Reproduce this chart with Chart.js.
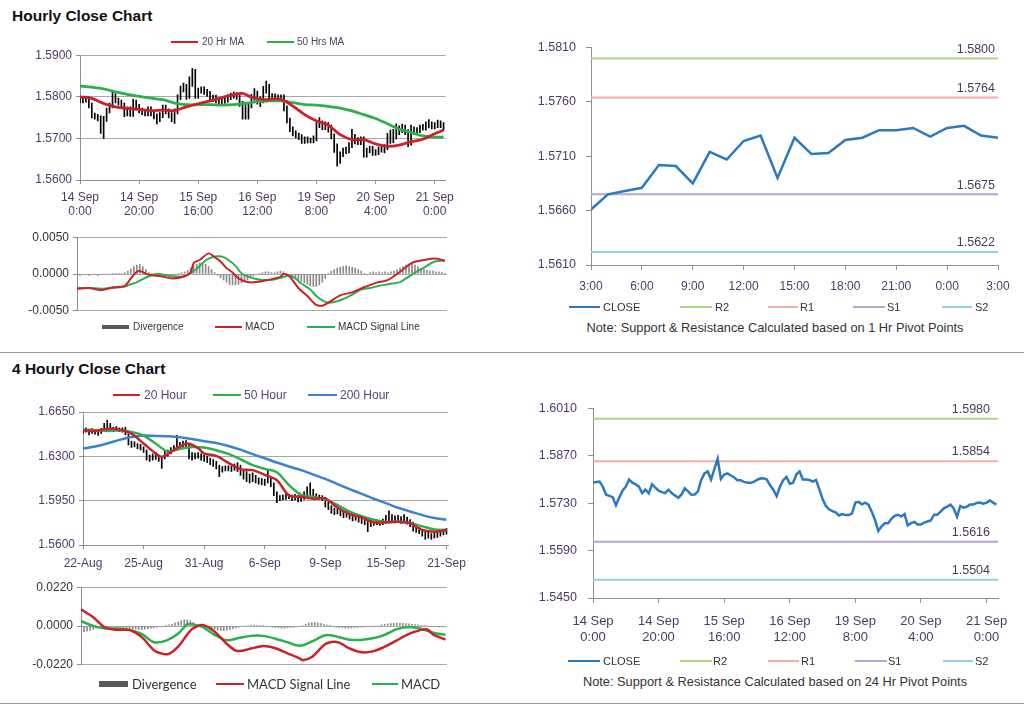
<!DOCTYPE html>
<html>
<head>
<meta charset="utf-8">
<title>Hourly / 4 Hourly Close Chart</title>
<script src="https://cdn.jsdelivr.net/npm/chart.js@4.4.1/dist/chart.umd.min.js"></script>
<style>
  body { margin: 0; background: #fff; }
  #page { position: relative; width: 1024px; height: 706px; overflow: hidden; font-family: "Liberation Sans", Arial, sans-serif; }
  #page canvas { position: absolute; }
  .title { position: absolute; left: 12px; font-weight: bold; font-size: 15.5px; color: #111; }
  .rule { position: absolute; left: 0; width: 1024px; height: 1px; background: #9a9a9a; }
  .note { position: absolute; width: 500px; text-align: center; font-size: 12.8px; line-height: 14px; color: #333; white-space: nowrap; }
</style>
</head>
<body>
<div id="page">
  <div class="title" style="top:7px">Hourly Close Chart</div>
  <div class="title" style="top:360px">4 Hourly Close Chart</div>
  <div class="rule" style="top:352px"></div>
  <div class="rule" style="top:703px"></div>

  <canvas id="cA" width="460" height="180" style="left:0;top:44px"></canvas>
  <canvas id="cB" width="460" height="96" style="left:0;top:226px"></canvas>
  <canvas id="cC" width="500" height="270" style="left:520px;top:30px"></canvas>
  <canvas id="cD" width="480" height="175" style="left:0;top:400px"></canvas>
  <canvas id="cE" width="460" height="100" style="left:0;top:576px"></canvas>
  <canvas id="cF" width="500" height="258" style="left:520px;top:390px"></canvas>

  <div class="note" style="left:525px;top:321px">Note: Support &amp; Resistance Calculated based on 1 Hr Pivot Points</div>
  <div class="note" style="left:525px;top:675px">Note: Support &amp; Resistance Calculated based on 24 Hr Pivot Points</div>
</div>

<script>
// ---- hourly bars, 14 Sep 0:00 .. 21 Sep 3:00 (one value per hour) ----
const hrTicks = [0, 20, 40, 60, 80, 100, 120];
const hrTickLabels = [['14 Sep', '0:00'], ['14 Sep', '20:00'], ['15 Sep', '16:00'], ['16 Sep', '12:00'],
                      ['19 Sep', '8:00'], ['20 Sep', '4:00'], ['21 Sep', '0:00']];

const hrClose = [
  1.5791, 1.5793, 1.5794, 1.5779, 1.5755, 1.5752, 1.5748, 1.5724, 1.5747, 1.5767,
  1.5779, 1.5800, 1.5791, 1.5786, 1.5779, 1.5760, 1.5770, 1.5759, 1.5786, 1.5776,
  1.5767, 1.5763, 1.5760, 1.5770, 1.5760, 1.5753, 1.5746, 1.5756, 1.5774, 1.5765,
  1.5755, 1.5756, 1.5765, 1.5799, 1.5818, 1.5824, 1.5800, 1.5831, 1.5862, 1.5802,
  1.5815, 1.5818, 1.5812, 1.5807, 1.5798, 1.5798, 1.5793, 1.5791, 1.5790, 1.5793,
  1.5799, 1.5803, 1.5804, 1.5800, 1.5783, 1.5770, 1.5751, 1.5779, 1.5798, 1.5808,
  1.5788, 1.5791, 1.5815, 1.5824, 1.5800, 1.5800, 1.5799, 1.5794, 1.5799, 1.5772,
  1.5743, 1.5722, 1.5712, 1.5707, 1.5703, 1.5694, 1.5698, 1.5695, 1.5695, 1.5700,
  1.5732, 1.5734, 1.5727, 1.5732, 1.5726, 1.5705, 1.5681, 1.5648, 1.5662, 1.5671,
  1.5671, 1.5684, 1.5693, 1.5696, 1.5691, 1.5698, 1.5665, 1.5671, 1.5675, 1.5667,
  1.5667, 1.5673, 1.5676, 1.5679, 1.5696, 1.5696, 1.5705, 1.5715, 1.5720, 1.5726,
  1.5715, 1.5690, 1.5722, 1.5717, 1.5720, 1.5726, 1.5726, 1.5731, 1.5732, 1.5729,
  1.5732, 1.5738, 1.5732, 1.5726
];
const hrLow = [
  1.5785, 1.5785, 1.5787, 1.5773, 1.5749, 1.5746, 1.5742, 1.5712, 1.5700, 1.5741,
  1.5761, 1.5773, 1.5785, 1.5780, 1.5773, 1.5752, 1.5754, 1.5753, 1.5753, 1.5768,
  1.5761, 1.5757, 1.5754, 1.5754, 1.5754, 1.5747, 1.5735, 1.5740, 1.5750, 1.5759,
  1.5749, 1.5740, 1.5736, 1.5759, 1.5793, 1.5812, 1.5794, 1.5796, 1.5825, 1.5796,
  1.5796, 1.5809, 1.5806, 1.5801, 1.5792, 1.5788, 1.5785, 1.5783, 1.5783, 1.5784,
  1.5787, 1.5793, 1.5797, 1.5794, 1.5777, 1.5746, 1.5746, 1.5746, 1.5773, 1.5792,
  1.5782, 1.5776, 1.5785, 1.5809, 1.5794, 1.5792, 1.5791, 1.5788, 1.5788, 1.5766,
  1.5737, 1.5716, 1.5706, 1.5701, 1.5697, 1.5688, 1.5688, 1.5689, 1.5689, 1.5689,
  1.5694, 1.5726, 1.5721, 1.5721, 1.5715, 1.5699, 1.5666, 1.5633, 1.5640, 1.5656,
  1.5663, 1.5665, 1.5678, 1.5687, 1.5685, 1.5685, 1.5655, 1.5655, 1.5665, 1.5659,
  1.5659, 1.5661, 1.5667, 1.5665, 1.5673, 1.5688, 1.5690, 1.5699, 1.5709, 1.5714,
  1.5709, 1.5680, 1.5684, 1.5711, 1.5711, 1.5714, 1.5720, 1.5720, 1.5725, 1.5723,
  1.5723, 1.5726, 1.5726, 1.5720
];
const hrHigh = [
  1.5797, 1.5799, 1.5800, 1.5800, 1.5785, 1.5761, 1.5758, 1.5754, 1.5753, 1.5773,
  1.5785, 1.5812, 1.5808, 1.5797, 1.5792, 1.5785, 1.5776, 1.5776, 1.5794, 1.5792,
  1.5782, 1.5773, 1.5769, 1.5776, 1.5776, 1.5766, 1.5759, 1.5762, 1.5780, 1.5780,
  1.5771, 1.5762, 1.5771, 1.5805, 1.5826, 1.5833, 1.5830, 1.5848, 1.5868, 1.5866,
  1.5821, 1.5824, 1.5824, 1.5818, 1.5813, 1.5804, 1.5804, 1.5799, 1.5797, 1.5799,
  1.5805, 1.5809, 1.5812, 1.5810, 1.5806, 1.5789, 1.5782, 1.5785, 1.5806, 1.5820,
  1.5814, 1.5800, 1.5825, 1.5838, 1.5830, 1.5808, 1.5807, 1.5805, 1.5805, 1.5805,
  1.5778, 1.5749, 1.5728, 1.5718, 1.5713, 1.5709, 1.5704, 1.5704, 1.5701, 1.5706,
  1.5738, 1.5750, 1.5742, 1.5740, 1.5738, 1.5732, 1.5711, 1.5687, 1.5668, 1.5677,
  1.5679, 1.5690, 1.5722, 1.5710, 1.5702, 1.5704, 1.5704, 1.5677, 1.5681, 1.5681,
  1.5673, 1.5679, 1.5682, 1.5685, 1.5712, 1.5720, 1.5722, 1.5735, 1.5730, 1.5734,
  1.5732, 1.5721, 1.5732, 1.5728, 1.5726, 1.5732, 1.5734, 1.5740, 1.5745, 1.5740,
  1.5738, 1.5744, 1.5742, 1.5738
];
// moving averages, [bar, value]
const ma20Hr = [[0,1.5800],[4,1.5796],[8,1.5784],[12,1.5776],[16,1.5772],[20,1.5770],[24,1.5767],[28,1.5768],
  [32,1.5767],[36,1.5776],[40,1.5783],[44,1.5790],[48,1.5798],[52,1.5805],[55,1.5808],[58,1.5799],[62,1.5793],
  [64,1.5794],[68,1.5794],[72,1.5778],[76,1.5757],[80,1.5742],[84,1.5732],[88,1.5709],[92,1.5697],[96,1.5697],
  [100,1.5687],[104,1.5681],[108,1.5684],[112,1.5692],[116,1.5698],[120,1.5711],[123,1.5720]];
const ma50Hr = [[0,1.5826],[4,1.5823],[8,1.5819],[12,1.5812],[16,1.5806],[20,1.5801],[24,1.5797],[28,1.5793],
  [32,1.5785],[36,1.5781],[40,1.5781],[44,1.5781],[48,1.5780],[52,1.5781],[56,1.5784],[60,1.5789],[64,1.5790],
  [68,1.5790],[72,1.5786],[76,1.5781],[80,1.5780],[84,1.5777],[88,1.5773],[92,1.5766],[96,1.5757],[100,1.5748],
  [104,1.5735],[108,1.5722],[112,1.5714],[116,1.5706],[120,1.5703],[123,1.5703]];

// hourly MACD
const divHr = [
  -0.0001, -0.0002, -0.0001, -0.0001, -0.0002, -0.0001, -0.0001, -0.0002, -0.0001, -0.0001,
  0.0000, 0.0000, 0.0001, 0.0001, 0.0001, 0.0001, 0.0002, 0.0004, 0.0007, 0.0010,
  0.0012, 0.0013, 0.0010, 0.0006, 0.0002, 0.0001, -0.0001, -0.0001, -0.0002, -0.0002,
  -0.0001, -0.0001, -0.0001, 0.0000, 0.0001, 0.0002, 0.0003, 0.0005, 0.0008, 0.0011,
  0.0013, 0.0015, 0.0014, 0.0013, 0.0010, 0.0006, 0.0002, -0.0002, -0.0005, -0.0008,
  -0.0011, -0.0014, -0.0015, -0.0015, -0.0014, -0.0012, -0.0010, -0.0008, -0.0005, -0.0003,
  -0.0001, 0.0001, 0.0002, 0.0003, 0.0003, 0.0002, 0.0002, 0.0003, 0.0004, 0.0003,
  0.0001, -0.0002, -0.0004, -0.0006, -0.0008, -0.0010, -0.0012, -0.0014, -0.0016, -0.0017,
  -0.0017, -0.0015, -0.0011, -0.0006, 0.0001, 0.0004, 0.0006, 0.0008, 0.0009, 0.0010,
  0.0011, 0.0010, 0.0009, 0.0008, 0.0006, 0.0004, 0.0001, -0.0001, 0.0002, 0.0003,
  0.0002, 0.0003, 0.0002, 0.0003, 0.0002, 0.0003, 0.0004, 0.0006, 0.0008, 0.0010,
  0.0012, 0.0013, 0.0013, 0.0012, 0.0010, 0.0008, 0.0006, 0.0005, 0.0004, 0.0004,
  0.0003, 0.0003, 0.0002, 0.0001
];
const macdHr = [[0,-0.0020],[4,-0.0019],[8,-0.0022],[12,-0.0018],[16,-0.0016],[18,-0.0006],[20,0.0003],[21,0.0004],
  [24,-0.0001],[28,-0.0003],[32,-0.0006],[36,-0.0003],[38,0.0002],[39,0.0015],[41,0.0019],[44,0.0028],[46,0.0023],
  [48,0.0017],[50,0.0008],[52,0.0002],[54,-0.0006],[57,-0.0011],[60,-0.0011],[64,-0.0008],[68,-0.0004],[69,0.0000],
  [71,-0.0003],[74,-0.0019],[77,-0.0030],[80,-0.0042],[82,-0.0043],[84,-0.0039],[88,-0.0029],[92,-0.0025],
  [96,-0.0018],[100,-0.0012],[104,-0.0008],[108,0.0003],[112,0.0015],[116,0.0019],[120,0.0021],[123,0.0018]];
const signalHr = [[0,-0.0019],[4,-0.0019],[8,-0.0020],[12,-0.0019],[16,-0.0017],[18,-0.0014],[20,-0.0011],
  [24,-0.0003],[27,0.0000],[32,-0.0003],[36,-0.0003],[40,0.0007],[42,0.0015],[44,0.0021],[47,0.0024],[49,0.0023],
  [51,0.0018],[53,0.0011],[55,0.0001],[59,-0.0006],[62,-0.0008],[65,-0.0008],[69,-0.0004],[71,-0.0002],
  [73,-0.0006],[75,-0.0013],[78,-0.0021],[80,-0.0030],[82,-0.0036],[84,-0.0039],[86,-0.0038],[89,-0.0034],
  [92,-0.0028],[95,-0.0021],[98,-0.0019],[101,-0.0016],[104,-0.0014],[108,-0.0011],[110,-0.0006],[113,0.0002],
  [117,0.0011],[119,0.0016],[121,0.0018],[123,0.0018]];

// last 25 hourly closes with 1 Hr pivots
const hourTicks = [0, 3, 6, 9, 12, 15, 18, 21, 24];
const hourTickLabels = ['3:00', '6:00', '9:00', '12:00', '15:00', '18:00', '21:00', '0:00', '3:00'];
const close25 = [1.5661, 1.5675, 1.5678, 1.5681, 1.5702, 1.5701, 1.5685, 1.5714, 1.5707, 1.5724,
                 1.5729, 1.5690, 1.5727, 1.5712, 1.5713, 1.5725, 1.5727, 1.5734, 1.5734, 1.5736,
                 1.5728, 1.5736, 1.5738, 1.5729, 1.5727];
const pivotNames = ['R2', 'R1', 'S1', 'S2'];
const pivots1h = [1.5800, 1.5764, 1.5675, 1.5622];
const pivots24h = [1.5980, 1.5854, 1.5616, 1.5504];

// ---- 4 hourly bars, 22-Aug .. 21-Sep ----
const fourTicks = [0, 20, 40, 60, 80, 100, 120];
const fourTickLabels = ['22-Aug', '25-Aug', '31-Aug', '6-Sep', '9-Sep', '15-Sep', '21-Sep'];
const fourLow = [
  1.6480, 1.6490, 1.6470, 1.6480, 1.6475, 1.6465, 1.6480, 1.6500, 1.6510, 1.6500,
  1.6495, 1.6500, 1.6495, 1.6490, 1.6470, 1.6390, 1.6370, 1.6375, 1.6360, 1.6350,
  1.6330, 1.6270, 1.6260, 1.6270, 1.6275, 1.6260, 1.6205, 1.6280, 1.6300, 1.6320,
  1.6340, 1.6350, 1.6360, 1.6365, 1.6370, 1.6280, 1.6270, 1.6280, 1.6285, 1.6270,
  1.6260, 1.6250, 1.6235, 1.6220, 1.6200, 1.6140, 1.6175, 1.6185, 1.6185, 1.6180,
  1.6190, 1.6180, 1.6150, 1.6120, 1.6100, 1.6090, 1.6100, 1.6090, 1.6080, 1.6075,
  1.6070, 1.6090, 1.6060, 1.5990, 1.5935, 1.5950, 1.5955, 1.5960, 1.5965, 1.5950,
  1.5955, 1.5940, 1.5945, 1.5960, 1.5980, 1.5990, 1.5975, 1.5965, 1.5960, 1.5950,
  1.5900, 1.5880, 1.5850, 1.5840, 1.5845, 1.5830, 1.5815, 1.5820, 1.5805, 1.5790,
  1.5795, 1.5780, 1.5770, 1.5760, 1.5705, 1.5745, 1.5755, 1.5760, 1.5755, 1.5760,
  1.5770, 1.5790, 1.5780, 1.5775, 1.5780, 1.5770, 1.5775, 1.5765, 1.5745, 1.5710,
  1.5700, 1.5690, 1.5670, 1.5645, 1.5655, 1.5645, 1.5655, 1.5660, 1.5670, 1.5680,
  1.5685
];
const fourHigh = [
  1.6520, 1.6525, 1.6515, 1.6520, 1.6510, 1.6505, 1.6520, 1.6560, 1.6585, 1.6560,
  1.6530, 1.6535, 1.6525, 1.6525, 1.6530, 1.6480, 1.6420, 1.6415, 1.6400, 1.6395,
  1.6375, 1.6350, 1.6310, 1.6320, 1.6330, 1.6310, 1.6300, 1.6340, 1.6350, 1.6370,
  1.6385, 1.6465, 1.6410, 1.6420, 1.6425, 1.6400, 1.6330, 1.6325, 1.6330, 1.6320,
  1.6310, 1.6300, 1.6285, 1.6275, 1.6260, 1.6230, 1.6220, 1.6225, 1.6225, 1.6220,
  1.6240, 1.6250, 1.6230, 1.6190, 1.6180, 1.6160, 1.6170, 1.6150, 1.6130, 1.6125,
  1.6120, 1.6190, 1.6140, 1.6090, 1.6020, 1.5990, 1.5995, 1.6000, 1.6000, 1.5995,
  1.6000, 1.5990, 1.5985, 1.6020, 1.6060, 1.6090, 1.6040, 1.6005, 1.5995, 1.5990,
  1.5975, 1.5940, 1.5910, 1.5890, 1.5885, 1.5875, 1.5865, 1.5870, 1.5855, 1.5845,
  1.5840, 1.5830, 1.5820, 1.5810, 1.5795, 1.5795, 1.5795, 1.5800, 1.5795, 1.5805,
  1.5835, 1.5870, 1.5840, 1.5830, 1.5835, 1.5825, 1.5840, 1.5820, 1.5800, 1.5780,
  1.5750, 1.5740, 1.5720, 1.5710, 1.5700, 1.5690, 1.5700, 1.5705, 1.5715, 1.5725,
  1.5730
];
const ma20Four = [[0,1.6506],[4,1.6500],[8,1.6516],[12,1.6511],[16,1.6479],[20,1.6401],[24,1.6322],[26,1.6296],
  [30,1.6350],[33,1.6390],[35,1.6400],[38,1.6365],[40,1.6322],[44,1.6303],[48,1.6248],[52,1.6199],[56,1.6191],
  [60,1.6154],[64,1.6112],[68,1.5991],[72,1.5981],[76,1.5965],[80,1.5968],[84,1.5894],[88,1.5844],[92,1.5818],
  [96,1.5779],[100,1.5779],[104,1.5784],[108,1.5771],[112,1.5718],[116,1.5705],[120,1.5718]];
const ma50Four = [[0,1.6511],[4,1.6506],[8,1.6500],[12,1.6506],[16,1.6493],[20,1.6464],[24,1.6401],[28,1.6338],
  [32,1.6359],[36,1.6374],[40,1.6369],[44,1.6348],[48,1.6319],[52,1.6277],[56,1.6230],[60,1.6201],[64,1.6175],
  [68,1.6073],[72,1.5996],[76,1.5981],[80,1.5960],[84,1.5915],[88,1.5863],[92,1.5828],[96,1.5800],[100,1.5781],
  [104,1.5784],[108,1.5773],[112,1.5747],[116,1.5723],[120,1.5718]];
const ma200Four = [[0,1.6361],[4,1.6377],[8,1.6401],[12,1.6430],[16,1.6453],[20,1.6464],[24,1.6461],[28,1.6458],
  [32,1.6451],[36,1.6437],[40,1.6419],[44,1.6406],[48,1.6382],[52,1.6353],[56,1.6317],[60,1.6285],[64,1.6251],
  [68,1.6220],[72,1.6191],[76,1.6156],[80,1.6122],[84,1.6080],[88,1.6041],[92,1.6004],[96,1.5965],[100,1.5931],
  [104,1.5894],[108,1.5865],[112,1.5836],[116,1.5813],[120,1.5799]];

// 4 hourly MACD
const divFour = [
  -0.0030, -0.0032, -0.0030, -0.0025, -0.0020, -0.0012, -0.0008, -0.0005, -0.0003, -0.0002,
  -0.0002, -0.0003, -0.0004, -0.0006, -0.0008, -0.0010, -0.0012, -0.0015, -0.0018, -0.0020,
  -0.0020, -0.0018, -0.0015, -0.0012, -0.0010, -0.0007, -0.0004, -0.0002, 0.0002, 0.0006,
  0.0010, 0.0016, 0.0022, 0.0030, 0.0035, 0.0035, 0.0030, 0.0020, 0.0010, 0.0005,
  0.0002, -0.0002, -0.0006, -0.0012, -0.0018, -0.0024, -0.0026, -0.0026, -0.0024, -0.0020,
  -0.0015, -0.0010, -0.0006, -0.0003, 0.0000, 0.0003, 0.0005, 0.0005, 0.0004, 0.0003,
  0.0002, 0.0000, -0.0003, -0.0006, -0.0008, -0.0010, -0.0012, -0.0012, -0.0010, -0.0008,
  -0.0006, -0.0004, -0.0002, 0.0003, 0.0010, 0.0016, 0.0019, 0.0020, 0.0018, 0.0014,
  0.0010, 0.0005, 0.0001, -0.0003, -0.0006, -0.0008, -0.0010, -0.0012, -0.0012, -0.0011,
  -0.0010, -0.0008, -0.0006, -0.0005, -0.0004, -0.0003, -0.0002, 0.0000, 0.0003, 0.0006,
  0.0009, 0.0012, 0.0014, 0.0015, 0.0016, 0.0016, 0.0015, 0.0014, 0.0012, 0.0010,
  0.0008, 0.0006, 0.0004, 0.0002, 0.0000, -0.0002, -0.0003, -0.0004, -0.0005, -0.0005,
  -0.0004
];
const signalFour = [[0,0.0094],[4,0.0050],[8,-0.0009],[12,-0.0022],[16,-0.0023],[20,-0.0063],[24,-0.0137],
  [27,-0.0158],[29,-0.0158],[32,-0.0117],[36,-0.0027],[38,-0.0004],[40,0.0005],[42,-0.0008],[44,-0.0032],
  [48,-0.0101],[51,-0.0140],[53,-0.0140],[56,-0.0128],[60,-0.0113],[64,-0.0126],[68,-0.0155],[72,-0.0184],
  [73,-0.0194],[76,-0.0176],[80,-0.0108],[82,-0.0092],[85,-0.0094],[88,-0.0124],[92,-0.0148],[96,-0.0144],
  [100,-0.0117],[104,-0.0081],[108,-0.0045],[112,-0.0022],[114,-0.0020],[116,-0.0049],[120,-0.0077]];
const macdFour = [[0,0.0027],[4,0.0001],[8,-0.0014],[12,-0.0014],[16,-0.0022],[20,-0.0045],[24,-0.0092],
  [28,-0.0083],[32,-0.0043],[35,0.0009],[37,0.0009],[40,-0.0005],[44,-0.0050],[48,-0.0081],[52,-0.0068],
  [56,-0.0056],[60,-0.0056],[64,-0.0072],[68,-0.0092],[72,-0.0112],[76,-0.0088],[80,-0.0054],[82,-0.0052],
  [84,-0.0059],[88,-0.0076],[92,-0.0079],[96,-0.0070],[100,-0.0050],[104,-0.0018],[108,-0.0005],[112,-0.0016],
  [116,-0.0038],[120,-0.0050]];

// the 24 Hr pivot chart reuses hrClose / hrTicks

// ---- look ----
const AXIS = '#8f8f8f', GRID = '#a8a8a8', LABEL = '#4d3a66', DARK = '#333';
const RED = '#cc2128', GREEN = '#2bb14c', BLUE = '#3b82cf', CLOSE_BLUE = '#2b79bf';
const PIVOT_COLORS = ['#b3d380', '#f2abaa', '#b7a3d4', '#94cfe3'];
const HR_MAX = 123.7, FOUR_MAX = 120.5, HOUR_MAX = 24, CLOSE_MAX = 123.5;

Chart.defaults.font.family = '"Liberation Sans", Arial, sans-serif';
Chart.defaults.animation = false;
Chart.defaults.responsive = false;
Chart.defaults.plugins.legend.display = false;
Chart.defaults.plugins.tooltip.enabled = false;
Chart.defaults.elements.point.radius = 0;

const pairs = arr => arr.map(([x, y]) => ({ x, y }));
const series = ys => ys.map((y, x) => ({ x, y }));
const ranges = (lo, hi) => lo.map((l, x) => ({ x, y: [l, hi[x]] }));
const flat = (v, max) => [{ x: 0, y: v }, { x: max, y: v }];

function xAxis(o) {
  const ax = {
    type: 'linear', min: 0, max: o.max, offset: false, display: !!o.labels,
    afterBuildTicks: s => { s.ticks = o.ticks.map(value => ({ value })); },
    border: { color: AXIS },
    grid: { offset: false, drawOnChartArea: false, color: AXIS, tickLength: o.tickLength || 4 },
    ticks: {
      autoSkip: false, maxRotation: 0, padding: o.pad || 6, color: LABEL,
      font: { size: o.size || 12, lineHeight: o.lh || 1.2 },
      callback: v => o.labels ? o.labels[o.ticks.indexOf(v)] : ''
    }
  };
  if (o.height) ax.afterFit = s => { s.height = o.height; };
  return ax;
}
function yAxis(o) {
  return {
    type: 'linear', min: o.min, max: o.max,
    afterBuildTicks: s => { s.ticks = o.ticks.map(value => ({ value })); },
    afterFit: s => { s.width = o.width; },
    border: { color: AXIS },
    grid: { drawOnChartArea: o.grid, color: GRID, tickColor: AXIS, tickLength: o.tickLength || 4 },
    ticks: { padding: o.pad || 4, color: o.color || LABEL, font: { size: o.size || 12 }, callback: v => v.toFixed(4) }
  };
}
const line = (label, data, color, width, tension) =>
  ({ type: 'line', label, data, borderColor: color, borderWidth: width, tension: tension || 0, order: 1 });

// writes the level value above each pivot line
const pivotLabels = {
  id: 'pivotLabels',
  afterDatasetsDraw(chart, args, opts) {
    if (!opts.levels) return;
    const { ctx, chartArea, scales } = chart;
    ctx.save();
    ctx.font = '12.5px "Liberation Sans", Arial, sans-serif';
    ctx.fillStyle = '#4a3a5a';
    ctx.textAlign = 'right';
    ctx.textBaseline = 'bottom';
    opts.levels.forEach(v => ctx.fillText(v.toFixed(4), chartArea.right - opts.dx, scales.y.getPixelForValue(v) - 3));
    ctx.restore();
  }
};
Chart.register(pivotLabels);

// hourly price bars
new Chart(document.getElementById('cA'), {
  type: 'line',
  data: { datasets: [
    { ...line('20 Hr MA', pairs(ma20Hr), RED, 2.8, 0.3), order: 0 },
    line('50 Hrs MA', pairs(ma50Hr), GREEN, 2.8, 0.3),
    { type: 'bar', label: 'Hourly', data: ranges(hrLow, hrHigh), backgroundColor: '#000', barThickness: 1, order: 2 }
  ]},
  options: {
    layout: { padding: { top: 10, right: 9 } },
    scales: {
      x: xAxis({ max: HR_MAX, ticks: hrTicks, labels: hrTickLabels, height: 44, pad: 6 }),
      y: yAxis({ min: 1.56, max: 1.59, ticks: [1.56, 1.57, 1.58, 1.59], width: 80, grid: true })
    }
  }
});

// hourly MACD
new Chart(document.getElementById('cB'), {
  type: 'line',
  data: { datasets: [
    { ...line('MACD', pairs(macdHr), RED, 2, 0.3), order: 0 },
    line('MACD Signal Line', pairs(signalHr), GREEN, 2, 0.3),
    { type: 'bar', label: 'Divergence', data: series(divHr), backgroundColor: '#8a8a8a', barThickness: 1, order: 2 }
  ]},
  options: {
    layout: { padding: { top: 10, right: 13, bottom: 8 } },
    scales: {
      x: xAxis({ max: HR_MAX, ticks: hrTicks }),
      y: yAxis({ min: -0.005, max: 0.005, ticks: [-0.005, 0, 0.005], width: 77, grid: true, color: DARK })
    }
  }
});

// pivot charts
function pivotChart(id, closes, xMax, levels, xo, yo, pad, dx) {
  new Chart(document.getElementById(id), {
    type: 'line',
    data: { datasets: [
      { ...line('CLOSE', series(closes), CLOSE_BLUE, 2.5), order: 0 },
      ...levels.map((v, i) => line(pivotNames[i], flat(v, xMax), PIVOT_COLORS[i], 2))
    ]},
    options: {
      layout: { padding: pad },
      plugins: { pivotLabels: { levels, dx } },
      scales: { x: xAxis(xo), y: yAxis(yo) }
    }
  });
}
pivotChart('cC', close25, HOUR_MAX, pivots1h,
  { max: HOUR_MAX, ticks: hourTicks, labels: hourTickLabels, height: 35, pad: 9, tickLength: 5 },
  { min: 1.561, max: 1.581, ticks: [1.561, 1.566, 1.571, 1.576, 1.581], width: 71, grid: false, pad: 10, tickLength: 5, size: 12.5 },
  { top: 17, right: 22 }, 3);
pivotChart('cF', hrClose, CLOSE_MAX, pivots24h,
  { max: CLOSE_MAX, ticks: hrTicks, labels: hrTickLabels, height: 50, pad: 10, tickLength: 5, size: 13, lh: 1.23 },
  { min: 1.545, max: 1.601, ticks: [1.545, 1.559, 1.573, 1.587, 1.601], width: 73, grid: false, pad: 11, tickLength: 5, size: 12.5 },
  { top: 12, right: 22 }, 8);

// 4 hourly price bars
new Chart(document.getElementById('cD'), {
  type: 'line',
  data: { datasets: [
    { ...line('20 Hour', pairs(ma20Four), RED, 2.5, 0.3), order: 0 },
    line('50 Hour', pairs(ma50Four), GREEN, 2.5, 0.3),
    line('200 Hour', pairs(ma200Four), BLUE, 2.5, 0.3),
    { type: 'bar', label: '4 Hourly', data: ranges(fourLow, fourHigh), backgroundColor: '#000', barThickness: 1, order: 2 }
  ]},
  options: {
    layout: { padding: { top: 12, right: 32 } },
    scales: {
      x: xAxis({ max: FOUR_MAX, ticks: fourTicks, labels: fourTickLabels, height: 30, pad: 7 }),
      y: yAxis({ min: 1.56, max: 1.665, ticks: [1.56, 1.595, 1.63, 1.665], width: 83, grid: true })
    }
  }
});

// 4 hourly MACD
new Chart(document.getElementById('cE'), {
  type: 'line',
  data: { datasets: [
    { ...line('MACD Signal Line', pairs(signalFour), RED, 2.5, 0.3), order: 0 },
    line('MACD', pairs(macdFour), GREEN, 2.5, 0.3),
    { type: 'bar', label: 'Divergence', data: series(divFour), backgroundColor: '#8a8a8a', barThickness: 1, order: 2 }
  ]},
  options: {
    layout: { padding: { top: 10, right: 13, bottom: 7 } },
    scales: {
      x: xAxis({ max: FOUR_MAX, ticks: fourTicks }),
      y: yAxis({ min: -0.022, max: 0.022, ticks: [-0.022, 0, 0.022], width: 81, grid: true, color: DARK })
    }
  }
});

// legends
const page = document.getElementById('page');
function legend(y, font, color, items) {
  items.forEach(([label, swatch, x0, x1, tx, h]) => {
    const s = document.createElement('div');
    s.style.cssText = `position:absolute;left:${x0}px;top:${y - h / 2}px;width:${x1 - x0}px;height:${h}px;background:${swatch}`;
    const t = document.createElement('div');
    t.textContent = label;
    t.style.cssText = `position:absolute;left:${tx}px;top:${y - 8}px;font:${font};line-height:16px;color:${color};white-space:nowrap`;
    page.append(s, t);
  });
}
legend(42, '10px "Liberation Sans", Arial', '#4b3d5c', [
  ['20 Hr MA', RED, 171, 198, 202, 2], ['50 Hrs MA', GREEN, 267, 294, 297, 2]]);
legend(327, '10px "Liberation Sans", Arial', DARK, [
  ['Divergence', '#595959', 102, 129, 133, 4], ['MACD', RED, 215, 242, 245, 2], ['MACD Signal Line', GREEN, 307, 335, 338, 2]]);
legend(307, '11px "Liberation Sans", Arial', DARK, [
  ['CLOSE', CLOSE_BLUE, 569, 600, 603, 2],
  ...pivotNames.map((n, i) => [n, PIVOT_COLORS[i], [680, 768, 853, 942][i], [712, 798, 885, 972][i], [715, 800, 887, 975][i], 1.5])]);
legend(395, '12px "Liberation Sans", Arial', '#5a4178', [
  ['20 Hour', RED, 113, 140, 144, 2], ['50 Hour', GREEN, 213, 241, 244, 2], ['200 Hour', BLUE, 308, 337, 340, 2]]);
legend(684, '13px Lato, "Liberation Sans", Arial', DARK, [
  ['Divergence', '#595959', 99, 128, 132, 6], ['MACD Signal Line', RED, 216, 244, 247, 2.5], ['MACD', GREEN, 372, 398, 401, 2.5]]);
legend(661, '11px "Liberation Sans", Arial', DARK, [
  ['CLOSE', CLOSE_BLUE, 568, 600, 603, 2],
  ...pivotNames.map((n, i) => [n, PIVOT_COLORS[i], [680, 768, 855, 943][i], [712, 799, 887, 973][i], [713, 801, 888, 975][i], 1.5])]);
</script>
</body>
</html>
